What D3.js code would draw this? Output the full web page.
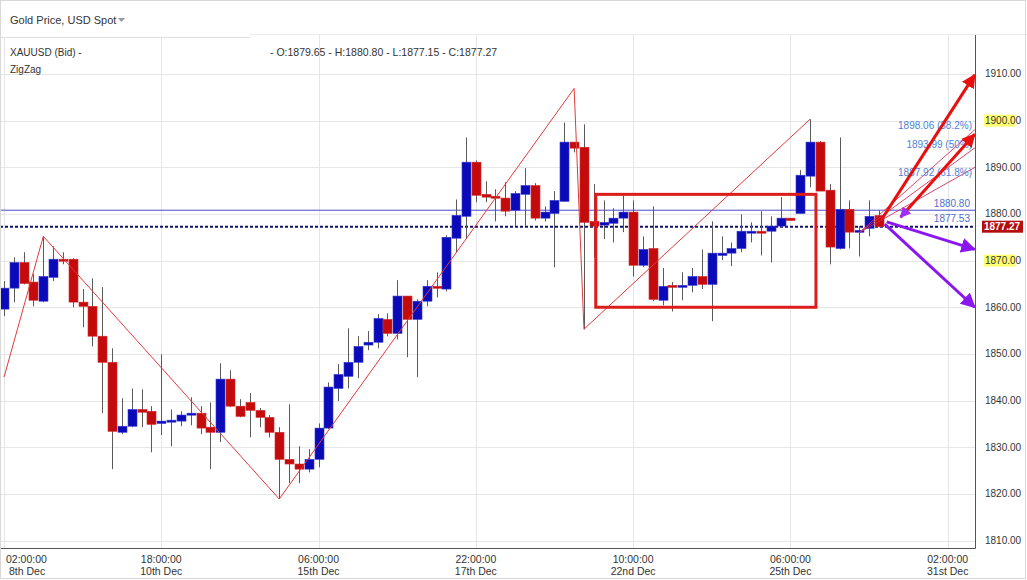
<!DOCTYPE html>
<html><head><meta charset="utf-8">
<script src="https://cdn.jsdelivr.net/npm/d3@7"></script>
<style>
html,body{margin:0;padding:0;background:#fff;}
svg{display:block;font-family:"Liberation Sans",Arial,sans-serif;}
</style></head><body>
<svg id="c" width="1027" height="580"></svg>
<script>
// ---- data (4H candles, XAUUSD) ----
const opens  = [1859.6,1864.1,1869.6,1865.4,1861.3,1866.4,1870.3,1870.3,1861.1,1860.2,1853.8,1848.2,1833.2,1834.5,1838.1,1837.7,1835.1,1835.4,1835.6,1837.1,1837.3,1834.3,1833.2,1844.6,1838.8,1839.6,1837.9,1836.4,1833.2,1827.4,1826.4,1825.3,1827.4,1834.1,1842.6,1845.2,1848.2,1851.9,1852.5,1857.4,1854.4,1862.4,1857.4,1861.3,1864.5,1863.9,1874.8,1879.5,1891.1,1884.2,1883.8,1883.4,1880.8,1884.2,1886.1,1879.1,1880.1,1882.7,1895.4,1894.3,1878.4,1877.6,1878.0,1879.1,1880.4,1869.0,1872.6,1861.5,1864.7,1864.5,1864.7,1866.6,1864.9,1871.1,1871.6,1872.6,1876.1,1876.3,1876.3,1877.4,1879.1,1880.1,1888.1,1895.4,1885.1,1872.6,1881.0,1876.1,1876.9,1879.65];
const highs  = [1865.6,1870.7,1871.8,1867.1,1875.2,1873.1,1871.8,1870.5,1863.9,1866.2,1864.3,1851.2,1840.5,1842.6,1842.4,1838.8,1849.9,1838.1,1837.7,1840.7,1838.8,1839.6,1848.0,1846.5,1840.3,1841.6,1838.4,1836.9,1834.3,1839.2,1830.2,1829.6,1835.1,1843.9,1847.8,1855.5,1853.8,1854.9,1858.5,1858.7,1865.8,1862.4,1861.7,1865.8,1867.5,1875.4,1883.1,1896.4,1891.5,1887.0,1885.3,1886.8,1884.9,1889.8,1886.6,1881.6,1884.9,1899.6,1895.4,1899.2,1886.4,1882.9,1881.2,1884.0,1882.9,1875.2,1881.6,1868.4,1865.4,1867.5,1868.4,1872.4,1878.4,1875.2,1873.9,1879.9,1878.2,1880.6,1879.5,1883.6,1879.1,1889.4,1900.3,1895.6,1886.4,1896.4,1882.9,1877.4,1882.9,1880.80];
const lows   = [1858.1,1861.1,1864.9,1860.2,1861.1,1865.6,1869.2,1860.0,1855.7,1851.6,1837.3,1825.3,1832.8,1834.3,1834.3,1828.9,1832.6,1830.2,1834.5,1834.7,1832.8,1825.3,1831.1,1838.6,1836.4,1832.1,1834.3,1832.1,1818.9,1822.3,1822.3,1824.6,1825.7,1833.9,1839.9,1842.6,1844.8,1850.8,1851.2,1853.8,1853.1,1849.3,1845.0,1860.2,1862.1,1863.4,1871.8,1874.6,1882.5,1882.5,1878.4,1879.5,1877.4,1877.4,1878.6,1878.4,1868.6,1882.7,1893.2,1855.3,1870.7,1874.6,1873.9,1876.1,1866.6,1868.6,1861.3,1860.4,1859.1,1861.5,1863.2,1863.9,1857.0,1870.1,1868.8,1871.8,1873.9,1871.1,1869.6,1877.1,1878.6,1880.1,1885.7,1884.9,1869.2,1872.4,1872.6,1870.9,1875.2,1877.15];
const closes = [1864.1,1869.6,1865.1,1861.5,1866.6,1870.3,1869.9,1861.1,1860.2,1853.8,1848.2,1833.4,1834.5,1838.1,1837.5,1834.9,1835.6,1835.8,1836.9,1837.3,1834.1,1833.2,1844.6,1838.8,1836.6,1837.9,1836.4,1833.2,1827.4,1826.4,1825.3,1827.4,1834.1,1842.9,1845.6,1848.2,1851.6,1852.5,1857.6,1854.4,1862.4,1857.4,1861.3,1864.5,1864.1,1875.0,1879.7,1891.1,1884.0,1883.6,1883.4,1880.6,1884.4,1886.1,1879.1,1880.4,1882.9,1895.4,1894.1,1878.2,1877.4,1878.2,1879.1,1880.4,1869.0,1872.4,1861.7,1864.5,1864.3,1864.7,1866.6,1864.9,1871.6,1871.6,1872.6,1876.3,1876.3,1876.1,1877.4,1879.1,1878.6,1888.3,1895.4,1884.9,1872.9,1881.0,1876.1,1876.5,1879.5,1877.27];

const priceTicks = [1810,1820,1830,1840,1850,1860,1870,1880,1890,1900,1910,1920];
const highlightedTicks = [1870,1900];
const timeTickIndex = [0,16,32,48,64,80,96];
const timeTickTime = ["02:00:00","18:00:00","06:00:00","22:00:00","10:00:00","06:00:00","02:00:00"];
const timeTickDate = ["8th Dec","10th Dec","15th Dec","17th Dec","22nd Dec","25th Dec","31st Dec"];

// ZigZag indicator pivots [candle index, price]
const zigzagIdx   = [0,4,28,58,59,82];
const zigzagPrice = [1845.0,1875.2,1818.9,1906.9,1855.3,1900.3];

// Range box [index from, index to], [price low, price high]
const boxIdx = [60.2,82.6];
const boxPrice = [1860.0,1884.2];

// Levels
const lastHigh = 1880.80, lastClose = 1877.27, midLevel = 1877.53;
const fibLabels = ["1898.06 (38.2%)","1893.99 (50%)","1887.92 (61.8%)"];
const fibLevels = [1898.06,1893.99,1887.92];
const fanBase = [87.0,1876.0];
const fanEnds = [1898.1,1894.2,1890.0];

// Arrows [fromIdx, fromPrice, toIdx, toPrice]
const redArrows = [[89.3,1878.9,98.75,1909.8],[91.2,1879.3,98.75,1897.1]];
const purpleArrows = [[89.8,1878.3,98.75,1872.4],[89.6,1877.8,98.75,1860.0]];
const headerTitle = "Gold Price, USD Spot";
const legend1 = "XAUUSD (Bid) -";
const legendOHLC = "- O:1879.65 - H:1880.80 - L:1877.15 - C:1877.27";
const legend2 = "ZigZag";

// ---- drawing ----
const W = 1027, H = 580;
const plotR = 975, plotB = 548;
const svg = d3.select("#c");
const x = d3.scaleLinear().domain([-0.407, 98.78]).range([0, plotR]);
const y = d3.scaleLinear().domain([1808.4, 1922]).range([plotB, 18]);

svg.append("rect").attr("width",W).attr("height",H).attr("fill","#fff");
const defs = svg.append("defs");
defs.append("clipPath").attr("id","plot").append("rect").attr("x",0).attr("y",0).attr("width",plotR).attr("height",plotB);
function marker(id,color,size){
  defs.append("marker").attr("id",id).attr("viewBox","0 0 10 10").attr("refX",9).attr("refY",5)
   .attr("markerWidth",size).attr("markerHeight",size).attr("orient","auto-start-reverse").attr("markerUnits","userSpaceOnUse")
   .append("path").attr("d","M0,0 L10,5 L0,10 z").attr("fill",color);
}
marker("ar","#e8100f",14);
marker("ap","#8a17f0",15);
marker("apsm","#9b30ff",11);

// grid
const g = svg.append("g");
g.selectAll("line.hg").data(priceTicks).join("line")
 .attr("x1",0).attr("x2",plotR).attr("y1",d=>Math.round(y(d))+0.5).attr("y2",d=>Math.round(y(d))+0.5)
 .attr("stroke","#e6e6e6");
g.selectAll("line.vg").data(timeTickIndex).join("line")
 .attr("x1",d=>Math.round(x(d))+0.5).attr("x2",d=>Math.round(x(d))+0.5).attr("y1",0).attr("y2",plotB)
 .attr("stroke","#e6e6e6");

const p = svg.append("g").attr("clip-path","url(#plot)");

// level lines
p.append("line").attr("x1",0).attr("x2",plotR).attr("y1",y(lastHigh)).attr("y2",y(lastHigh))
 .attr("stroke","#4a4ad0").attr("stroke-width",1);
p.append("line").attr("x1",0).attr("x2",plotR).attr("y1",y(lastClose)).attr("y2",y(lastClose))
 .attr("stroke","#101070").attr("stroke-width",2).attr("stroke-dasharray","3,2");

// candles
const n = opens.length;
const idx = d3.range(n);
p.selectAll("line.wick").data(idx).join("line")
 .attr("x1",i=>Math.round(x(i))+0.5).attr("x2",i=>Math.round(x(i))+0.5)
 .attr("y1",i=>y(highs[i])).attr("y2",i=>y(lows[i]))
 .attr("stroke","#5a5a5a").attr("stroke-width",1);
p.selectAll("rect.body").data(idx).join("rect")
 .attr("x",i=>Math.round(x(i))-4)
 .attr("width",9)
 .attr("y",i=>y(Math.max(opens[i],closes[i])))
 .attr("height",i=>Math.max(2,Math.abs(y(opens[i])-y(closes[i]))))
 .attr("fill",i=>closes[i]>=opens[i]?"#0a0ab8":"#c40a0a")
 .attr("stroke",i=>closes[i]>=opens[i]?"#3a3ad0":"#d03030").attr("stroke-width",0.6);

// zigzag
p.append("path").datum(d3.range(zigzagIdx.length))
 .attr("d",d3.line().x(k=>x(zigzagIdx[k])).y(k=>y(zigzagPrice[k])))
 .attr("fill","none").attr("stroke","#e03a3a").attr("stroke-width",1);

// box
p.append("rect").attr("x",x(boxIdx[0])).attr("y",y(boxPrice[1]))
 .attr("width",x(boxIdx[1])-x(boxIdx[0])).attr("height",y(boxPrice[0])-y(boxPrice[1]))
 .attr("fill","none").attr("stroke","#dd1c1c").attr("stroke-width",3);

// fan lines
p.selectAll("line.fan").data(fanEnds).join("line")
 .attr("x1",x(fanBase[0])).attr("y1",y(fanBase[1])).attr("x2",x(98.78)).attr("y2",d=>y(d))
 .attr("stroke","#d2305a").attr("stroke-width",0.9);

// fib labels
p.selectAll("text.fib").data(fibLabels).join("text")
 .attr("x",972).attr("y",(d,i)=>y(fibLevels[i])-1).attr("text-anchor","end")
 .attr("font-size",10).attr("fill","#4f7fd6").text(d=>d);
p.append("text").attr("x",970).attr("y",y(lastHigh)-3).attr("text-anchor","end").attr("font-size",10).attr("fill","#4f6fd0").text(lastHigh.toFixed(2));
p.append("text").attr("x",970).attr("y",y(midLevel)-3).attr("text-anchor","end").attr("font-size",10).attr("fill","#4f6fd0").text(midLevel.toFixed(2));

// arrows
svg.selectAll("line.ra").data(redArrows).join("line")
 .attr("x1",d=>x(d[0])).attr("y1",d=>y(d[1])).attr("x2",d=>x(d[2])).attr("y2",d=>y(d[3]))
 .attr("stroke","#e8100f").attr("stroke-width",3).attr("marker-end","url(#ar)")
 .attr("marker-start",(d,i)=>i===1?"url(#apsm)":null);
svg.selectAll("line.pa").data(purpleArrows).join("line")
 .attr("x1",d=>x(d[0])).attr("y1",d=>y(d[1])).attr("x2",d=>x(d[2])).attr("y2",d=>y(d[3]))
 .attr("stroke","#8a17f0").attr("stroke-width",3).attr("marker-end","url(#ap)");

// axes lines
svg.append("line").attr("x1",plotR+0.5).attr("x2",plotR+0.5).attr("y1",0).attr("y2",plotB+0.5).attr("stroke","#555");
svg.append("line").attr("x1",0).attr("x2",plotR+0.5).attr("y1",plotB+0.5).attr("y2",plotB+0.5).attr("stroke","#555");

// y labels
const yl = svg.append("g");
yl.selectAll("rect.hl").data(highlightedTicks).join("rect")
 .attr("x",984).attr("y",d=>y(d)-6).attr("width",31).attr("height",12).attr("fill","#ffff70");
yl.selectAll("text").data(priceTicks).join("text")
 .attr("x",985).attr("y",d=>y(d)+3.5).attr("font-size",10).attr("fill","#333").text(d=>d.toFixed(2));
yl.append("rect").attr("x",982).attr("y",y(lastClose)-6).attr("width",41).attr("height",12).attr("fill","#b30d0d");
yl.append("text").attr("x",1002).attr("y",y(lastClose)+3.5).attr("text-anchor","middle").attr("font-size",10)
 .attr("font-weight","bold").attr("fill","#fff").text(lastClose.toFixed(2));

// x labels
const xl = svg.append("g").attr("font-size",10.5).attr("fill","#333");
timeTickIndex.forEach((t,k)=>{
  const cx = k===0 ? 6 : x(t);
  const anchor = k===0 ? "start" : "middle";
  xl.append("text").attr("x",cx).attr("y",563).attr("text-anchor",anchor).text(timeTickTime[k]);
  xl.append("text").attr("x",k===0?cx+3:cx).attr("y",575).attr("text-anchor",anchor).text(timeTickDate[k]);
});

// header
svg.append("rect").attr("x",0).attr("y",0).attr("width",W).attr("height",34).attr("fill","#fff");
svg.append("rect").attr("x",0).attr("y",0).attr("width",250).attr("height",37).attr("fill","#fff");
svg.append("line").attr("x1",0).attr("x2",250).attr("y1",37.5).attr("y2",37.5).attr("stroke","#e0e0e0");
svg.append("line").attr("x1",250).attr("x2",W).attr("y1",34.5).attr("y2",34.5).attr("stroke","#ececec");
svg.append("text").attr("x",10).attr("y",24).attr("font-size",11).attr("fill","#333").text(headerTitle);
svg.append("path").attr("d","M118,18 L125,18 L121.5,22 z").attr("fill","#999");
svg.append("text").attr("x",10).attr("y",56).attr("font-size",10).attr("fill","#333").text(legend1);
svg.append("text").attr("x",270).attr("y",56).attr("font-size",10.5).attr("fill","#333").text(legendOHLC);
svg.append("text").attr("x",10).attr("y",73).attr("font-size",10).attr("fill","#333").text(legend2);
// frame
svg.append("rect").attr("x",0.5).attr("y",0.5).attr("width",W-2).attr("height",H-2).attr("fill","none").attr("stroke","#d8d8d8");
</script></body></html>
